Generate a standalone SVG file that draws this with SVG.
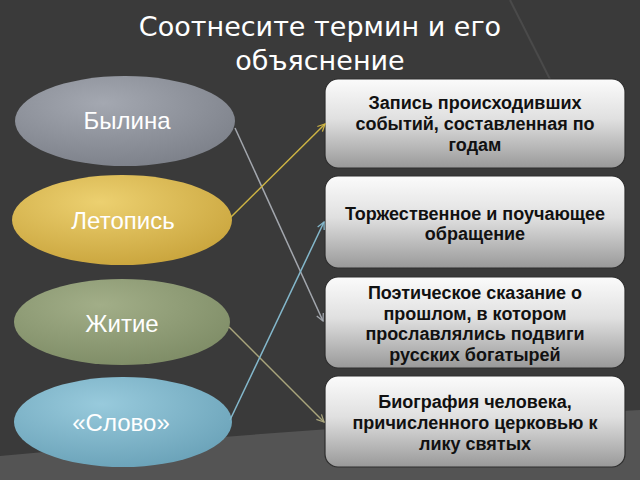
<svg xmlns="http://www.w3.org/2000/svg" width="640" height="480" viewBox="0 0 640 480">
<style>
.title{font-family:"DejaVu Sans",sans-serif;font-size:27px;fill:#ffffff;text-anchor:middle}
.term{font-family:"Liberation Sans",Arial,sans-serif;font-size:24px;fill:#ffffff;text-anchor:middle}
.def{font-family:"Liberation Sans",Arial,sans-serif;font-size:18px;font-weight:bold;fill:#111111;text-anchor:middle}
.box{stroke:#2e2e2e;stroke-width:1.2}
.conn{fill:none;stroke-width:1.5}
</style>
<defs>
<linearGradient id="gBox" x1="0" y1="0" x2="0" y2="1">
<stop offset="0" stop-color="#fbfbfb"/>
<stop offset="0.45" stop-color="#e0e0e0"/>
<stop offset="1" stop-color="#999999"/>
</linearGradient>
<radialGradient id="gGray" cx="0.4" cy="0.3" r="0.75">
<stop offset="0" stop-color="#a4a8b1"/>
<stop offset="1" stop-color="#7c8089"/>
</radialGradient>
<radialGradient id="gGold" cx="0.4" cy="0.3" r="0.75">
<stop offset="0" stop-color="#ecd070"/>
<stop offset="1" stop-color="#c9a43c"/>
</radialGradient>
<radialGradient id="gOlive" cx="0.4" cy="0.3" r="0.75">
<stop offset="0" stop-color="#a2ae88"/>
<stop offset="1" stop-color="#7e8c66"/>
</radialGradient>
<radialGradient id="gBlue" cx="0.4" cy="0.3" r="0.75">
<stop offset="0" stop-color="#98cadc"/>
<stop offset="1" stop-color="#6aa2b8"/>
</radialGradient>
<marker id="mGray" viewBox="0 0 10 10" refX="9" refY="5" markerWidth="9" markerHeight="9" markerUnits="userSpaceOnUse" orient="auto"><path d="M1,1 L9,5 L1,9" fill="none" stroke="#a3a7ae" stroke-width="1.4"/></marker>
<marker id="mGold" viewBox="0 0 10 10" refX="9" refY="5" markerWidth="9" markerHeight="9" markerUnits="userSpaceOnUse" orient="auto"><path d="M1,1 L9,5 L1,9" fill="none" stroke="#cdb444" stroke-width="1.4"/></marker>
<marker id="mOlive" viewBox="0 0 10 10" refX="9" refY="5" markerWidth="9" markerHeight="9" markerUnits="userSpaceOnUse" orient="auto"><path d="M1,1 L9,5 L1,9" fill="none" stroke="#a9a57c" stroke-width="1.4"/></marker>
<marker id="mBlue" viewBox="0 0 10 10" refX="9" refY="5" markerWidth="9" markerHeight="9" markerUnits="userSpaceOnUse" orient="auto"><path d="M1,1 L9,5 L1,9" fill="none" stroke="#84b8cc" stroke-width="1.4"/></marker>
</defs>
<rect x="0" y="0" width="640" height="480" fill="#3a3a3a"/>
<path d="M0,456 Q300,428 640,410 L640,480 L0,480 Z" fill="#545454"/>
<path d="M510,0 L558,95" stroke="#4a4a4a" stroke-width="2" fill="none"/>
<text class="title" x="320" y="36">Соотнесите термин и его</text>
<text class="title" x="320" y="70">объяснение</text>

<g id="term-bylina">
<ellipse cx="125" cy="121" rx="110" ry="45" fill="url(#gGray)"/>
<text class="term" x="127" y="129">Былина</text>
</g>
<g id="term-letopis">
<ellipse cx="122" cy="220" rx="110" ry="45" fill="url(#gGold)"/>
<text class="term" x="123" y="229">Летопись</text>
</g>
<g id="term-zhitie">
<ellipse cx="122" cy="322" rx="108" ry="43" fill="url(#gOlive)"/>
<text class="term" x="122" y="332">Житие</text>
</g>
<g id="term-slovo">
<ellipse cx="123" cy="422" rx="109" ry="45" fill="url(#gBlue)"/>
<text class="term" x="121" y="431">«Слово»</text>
</g>

<g id="def-1">
<rect class="box" x="325" y="79" width="300" height="89" rx="13" fill="url(#gBox)"/>
<text class="def" x="475" y="109">Запись происходивших</text>
<text class="def" x="475" y="130">событий, составленная по</text>
<text class="def" x="475" y="151">годам</text>
</g>
<g id="def-2">
<rect class="box" x="325" y="176" width="300" height="92" rx="13" fill="url(#gBox)"/>
<text class="def" x="475" y="220">Торжественное и поучающее</text>
<text class="def" x="475" y="240">обращение</text>
</g>
<g id="def-3">
<rect class="box" x="325" y="277" width="300" height="91" rx="13" fill="url(#gBox)"/>
<text class="def" x="475" y="299">Поэтическое сказание о</text>
<text class="def" x="475" y="320">прошлом, в котором</text>
<text class="def" x="475" y="340">прославлялись подвиги</text>
<text class="def" x="475" y="361">русских богатырей</text>
</g>
<g id="def-4">
<rect class="box" x="325" y="376" width="300" height="91" rx="13" fill="url(#gBox)"/>
<text class="def" x="475" y="408">Биография человека,</text>
<text class="def" x="475" y="429">причисленного церковью к</text>
<text class="def" x="475" y="450">лику святых</text>
</g>

<g id="connectors">
<line class="conn" x1="235" y1="128" x2="323" y2="321" stroke="#a3a7ae" marker-end="url(#mGray)"/>
<line class="conn" x1="230" y1="218" x2="325" y2="124" stroke="#cdb444" marker-end="url(#mGold)"/>
<line class="conn" x1="229" y1="327" x2="324" y2="422" stroke="#a9a57c" marker-end="url(#mOlive)"/>
<line class="conn" x1="230" y1="420" x2="324" y2="222" stroke="#84b8cc" marker-end="url(#mBlue)"/>
</g>
</svg>
